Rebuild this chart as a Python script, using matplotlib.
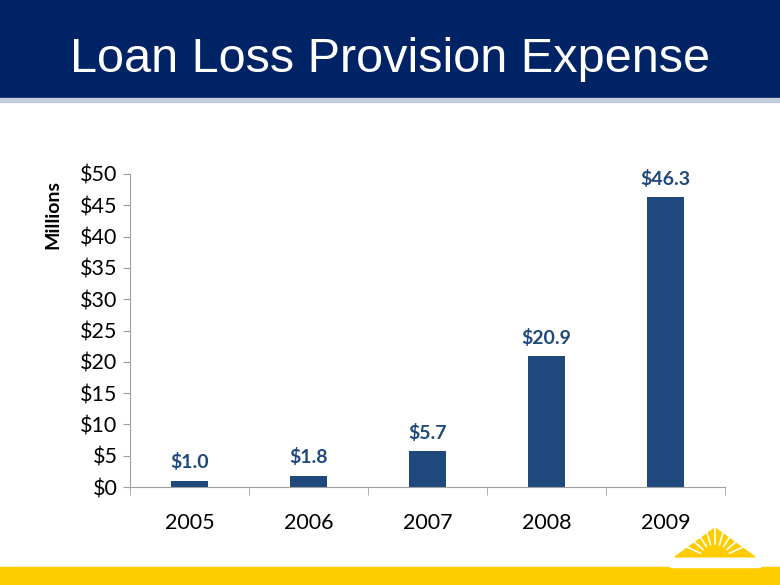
import numpy as np
import matplotlib.pyplot as plt
from matplotlib.patches import Rectangle, Polygon

# Data
years = ['2005', '2006', '2007', '2008', '2009']
provision = [1.0, 1.8, 5.7, 20.9, 46.3]
yticks = [0, 5, 10, 15, 20, 25, 30, 35, 40, 45, 50]

navy = '#002366'
bar_color = '#1F497D'
gold = '#FFCC00'

fig = plt.figure(figsize=(7.8, 5.85), dpi=100)

# Header band and bottom stripe
fig.patches.append(Rectangle((0, 1 - 97 / 585), 1, 97 / 585, transform=fig.transFigure,
                             color=navy, zorder=0))
fig.patches.append(Rectangle((0, 1 - 102 / 585), 1, 4 / 585, transform=fig.transFigure,
                             color='#C5CCDA', zorder=0))
fig.patches.append(Rectangle((0, 0), 1, 18 / 585, transform=fig.transFigure,
                             color=gold, zorder=0))

# simple sun logo (gold triangle with white rays)
fig.patches.append(Polygon([(675 / 780, 1 - 557 / 585), (715 / 780, 1 - 528 / 585),
                            (755 / 780, 1 - 557 / 585)], closed=True,
                           transform=fig.transFigure, color=gold, zorder=0))
cx, cy = 715, 560
for ang in np.linspace(25, 155, 9):
    r0, r1 = 16, 40
    a = np.radians(ang)
    fig.add_artist(plt.Line2D([(cx + r0 * np.cos(a)) / 780, (cx + r1 * np.cos(a)) / 780],
                              [1 - (cy - r0 * np.sin(a)) / 585, 1 - (cy - r1 * np.sin(a)) / 585],
                              transform=fig.transFigure, color='white', lw=1.2))
fig.patches.append(Rectangle((670 / 780, 1 - 567 / 585), 90 / 780, 9 / 585,
                             transform=fig.transFigure, color='white', zorder=1))

fig.text(0.5, 1 - 60 / 585, 'Loan Loss Provision Expense', ha='center', va='center',
         color='white', fontsize=35, family='Liberation Sans')

ax = fig.add_axes([130 / 780, 1 - 487 / 585, 595 / 780, 313 / 585])
x = range(len(years))
ax.bar(x, provision, width=0.31, color=bar_color, zorder=2)
for xi, v in zip(x, provision):
    ax.text(xi, v + 1.5, f'${v:.1f}', ha='center', va='bottom', color=bar_color,
            fontsize=14, fontweight='bold', family='Lato')

ax.set_xlim(-0.5, len(years) - 0.5)
ax.set_ylim(0, 50)
ax.set_yticks(yticks)
ax.set_yticklabels([f'${t}' for t in yticks], family='Lato', fontsize=15.5)
ax.set_xticks(list(x))
ax.set_xticklabels(years, family='Lato', fontsize=15.5)
ax.set_xticks([i + 0.5 for i in range(-1, len(years))], minor=True)
ax.tick_params(axis='x', which='major', length=0, pad=19)
ax.tick_params(axis='x', which='minor', length=6, color='#A0A0A0')
ax.tick_params(axis='y', length=5, color='#A0A0A0', pad=4)
for s in ['top', 'right']:
    ax.spines[s].set_visible(False)
for s in ['left', 'bottom']:
    ax.spines[s].set_color('#A0A0A0')
ax.set_ylabel('Millions', family='Lato', fontsize=14, fontweight='bold')
ax.yaxis.set_label_coords(-0.115, 0.87)

fig.savefig('out.png', dpi=100)
